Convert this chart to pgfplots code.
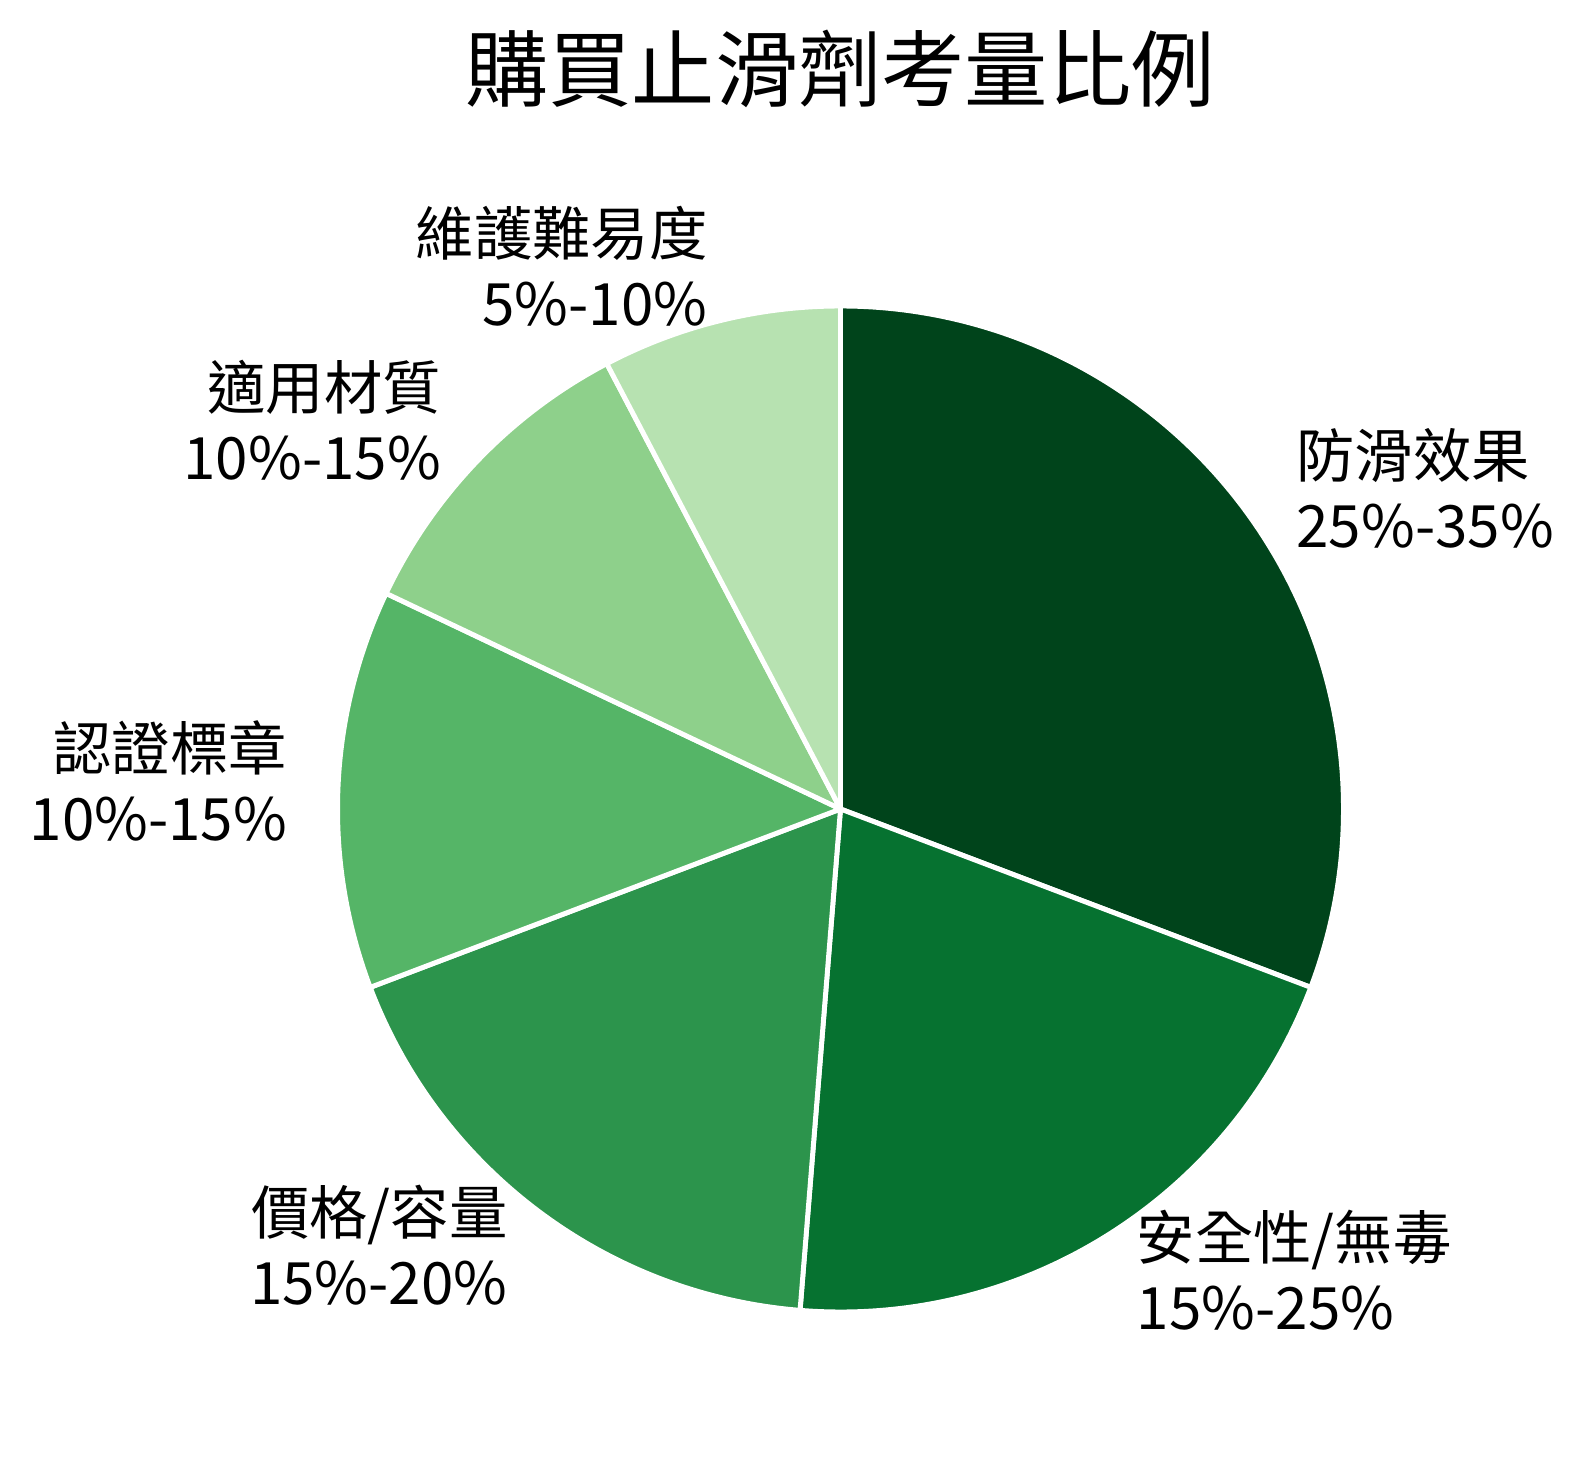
\documentclass[border=0pt]{standalone}
\usepackage{pgfplots}
\pgfplotsset{compat=1.18}
\usepackage{pgfplotstable}
\usepackage{fontspec}
\setmainfont{Noto Sans CJK TC}
\definecolor{c0}{HTML}{00441B}
\definecolor{c1}{HTML}{067230}
\definecolor{c2}{HTML}{2C944C}
\definecolor{c3}{HTML}{55B567}
\definecolor{c4}{HTML}{8ED08B}
\definecolor{c5}{HTML}{B7E2B1}
% slice values (midpoints of the quoted ranges)
\pgfplotstableread{
value
30
20
17.5
12.5
10
7.5
}\piedata
\def\labA{防滑效果\\25\%-35\%}
\def\labB{安全性/無毒\\15\%-25\%}
\def\labC{價格/容量\\15\%-20\%}
\def\labD{認證標章\\10\%-15\%}
\def\labE{適用材質\\10\%-15\%}
\def\labF{維護難易度\\5\%-10\%}
\expandafter\let\csname lab0\endcsname\labA
\expandafter\let\csname lab1\endcsname\labB
\expandafter\let\csname lab2\endcsname\labC
\expandafter\let\csname lab3\endcsname\labD
\expandafter\let\csname lab4\endcsname\labE
\expandafter\let\csname lab5\endcsname\labF
\def\cx{8.405}
\def\cy{6.59}
\def\R{5.03}
\begin{document}
\begin{tikzpicture}
% totals and angles
\gdef\total{0}
\pgfplotsforeachungrouped \i in {0,...,5}{%
  \pgfplotstablegetelem{\i}{value}\of\piedata
  \pgfmathsetmacro\tmp{\total+\pgfplotsretval}%
  \xdef\total{\tmp}%
}
\gdef\cum{0}
\pgfplotsforeachungrouped \i in {0,...,5}{%
  \pgfplotstablegetelem{\i}{value}\of\piedata
  \let\val\pgfplotsretval
  \pgfmathsetmacro\sa{90-(\cum/\total)*360}%
  \pgfmathsetmacro\ea{90-((\cum+\val)/\total)*360}%
  \pgfmathsetmacro\ma{(\sa+\ea)/2}%
  \pgfmathsetmacro\lx{\cx+1.1*\R*cos(\ma)}%
  \pgfmathsetmacro\ly{\cy+1.1*\R*sin(\ma)+0.06}%
  \pgfmathparse{cos(\ma)>0?1:0}%
  \pgfmathtruncatemacro\sd{\pgfmathresult}%
  \expandafter\xdef\csname sa\i\endcsname{\sa}%
  \expandafter\xdef\csname ea\i\endcsname{\ea}%
  \expandafter\xdef\csname lx\i\endcsname{\lx}%
  \expandafter\xdef\csname ly\i\endcsname{\ly}%
  \expandafter\xdef\csname sd\i\endcsname{\sd}%
  \pgfmathsetmacro\tmp{\cum+\val}%
  \xdef\cum{\tmp}%
}
\begin{axis}[
  scale only axis, width=15.82cm, height=14.68cm,
  xmin=0, xmax=15.82, ymin=0, ymax=14.68,
  hide axis, clip=false,
]
\path (axis cs:0,0) rectangle (axis cs:15.82,14.68);
\pgfplotsinvokeforeach{0,...,5}{%
  \fill[fill=c#1, draw=white, line width=1.4pt, line join=round]
    (axis cs:\cx,\cy) --
    (axis cs:{\cx+\R*cos(\csname sa#1\endcsname)},{\cy+\R*sin(\csname sa#1\endcsname)})
    arc[start angle=\csname sa#1\endcsname, end angle=\csname ea#1\endcsname, radius=\R]
    -- cycle;
}
\pgfplotsinvokeforeach{0,...,5}{%
  \ifnum\csname sd#1\endcsname=1
    \node[anchor=west, align=left, inner sep=0pt, font=\fontsize{16.6}{19.9}\selectfont]
      at (axis cs:\csname lx#1\endcsname,\csname ly#1\endcsname) {\csname lab#1\endcsname};
  \else
    \node[anchor=east, align=right, inner sep=0pt, font=\fontsize{16.6}{19.9}\selectfont]
      at (axis cs:\csname lx#1\endcsname,\csname ly#1\endcsname) {\csname lab#1\endcsname};
  \fi
}
\node[inner sep=0pt, font=\fontsize{23.7}{28}\selectfont] at (axis cs:8.40,13.99) {購買止滑劑考量比例};
\end{axis}
\end{tikzpicture}
\end{document}
